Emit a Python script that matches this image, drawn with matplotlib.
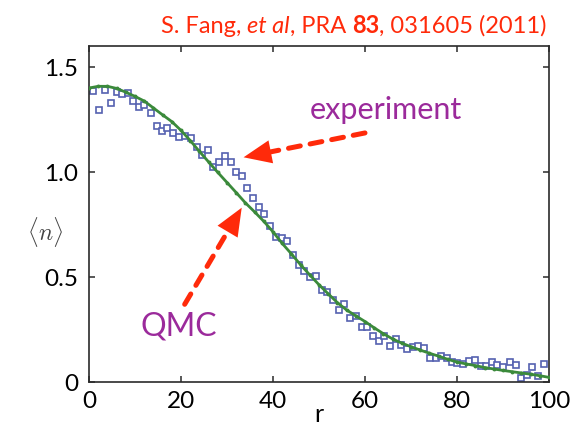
import matplotlib
matplotlib.use("Agg")
import matplotlib.pyplot as plt
from matplotlib.offsetbox import TextArea, HPacker, AnchoredOffsetbox

# ---------------- data ----------------
qmc_r = [0, 2, 4, 6, 8, 10, 12, 14, 16, 18, 20, 22, 24, 26, 28, 30, 32, 34, 36, 38,
         40, 42, 44, 46, 48, 50, 52, 54, 56, 58, 60, 62, 64, 66, 68, 70, 72, 74, 76, 78,
         80, 82, 84, 86, 88, 90, 92, 94, 96, 98, 100]
qmc_n = [1.400, 1.408, 1.408, 1.398, 1.380, 1.360, 1.338, 1.305, 1.272, 1.240,
         1.198, 1.150, 1.098, 1.048, 0.998, 0.950, 0.902, 0.853, 0.810, 0.765,
         0.715, 0.660, 0.610, 0.558, 0.510, 0.463, 0.420, 0.378, 0.343, 0.315,
         0.288, 0.258, 0.230, 0.205, 0.185, 0.168, 0.152, 0.137, 0.123, 0.108,
         0.095, 0.086, 0.078, 0.069, 0.062, 0.055, 0.049, 0.043, 0.037, 0.030, 0.022]

exp_r = [0.9, 2.2, 3.5, 4.7, 6.0, 7.2, 8.5, 9.6, 10.9, 12.0,
         13.4, 14.7, 15.8, 17.0, 18.3, 19.6, 20.9, 22.1, 23.4, 24.6,
         25.8, 27.0, 28.3, 29.6, 30.8, 31.9, 33.2, 34.4, 35.7,
         37.0, 38.1, 39.3, 40.6, 41.9, 43.1, 44.4, 45.7, 46.8, 48.0, 49.3, 50.6, 51.8,
         53.1, 54.3, 55.5, 56.7, 58.0, 59.3, 60.5, 61.8, 63.0, 64.2,
         65.4, 66.7, 67.8, 69.1, 70.4, 71.6, 72.9, 74.1, 75.4, 76.5,
         77.8, 79.0, 80.1, 81.4, 82.7, 83.9, 85.2, 86.4, 87.7, 88.8,
         90.1, 91.5, 92.8, 93.9, 95.2, 96.4, 97.7, 99.0]
exp_n = [1.384, 1.295, 1.390, 1.330, 1.383, 1.371, 1.378, 1.340, 1.310, 1.319,
         1.281, 1.217, 1.197, 1.210, 1.184, 1.165, 1.170, 1.160, 1.118, 1.083,
         1.105, 1.022, 1.046, 1.076, 1.046, 0.998, 0.979, 0.924, 0.875,
         0.835, 0.800, 0.741, 0.690, 0.684, 0.670, 0.606, 0.557, 0.530, 0.498, 0.503, 0.438, 0.427,
         0.390, 0.343, 0.371, 0.305, 0.313, 0.260, 0.260, 0.217, 0.194, 0.221,
         0.170, 0.205, 0.178, 0.157, 0.165, 0.173, 0.160, 0.114, 0.113, 0.122,
         0.114, 0.094, 0.089, 0.086, 0.098, 0.106, 0.078, 0.078, 0.094, 0.081,
         0.070, 0.097, 0.083, 0.019, 0.035, 0.070, 0.030, 0.086]

x_ticks = [0, 20, 40, 60, 80, 100]
x_ticklabels = ["0", "20", "40", "60", "80", "100"]
y_ticks = [0, 0.5, 1.0, 1.5]
y_ticklabels = ["0", "0.5", "1.0", "1.5"]

# annotation anchor points (data coords)
exp_label_xy = (64.5, 1.30)
exp_arrow_tail = (60.0, 1.186)
exp_arrow_tip = (33.6, 1.07)
qmc_label_xy = (19.6, 0.27)
qmc_arrow_tail = (20.8, 0.37)
qmc_arrow_tip = (33.2, 0.83)

# ---------------- style ----------------
FONT = "Lato"
plt.rcParams["font.family"] = [FONT, "DejaVu Sans"]
RED = "#ff2a0a"
PURPLE = "#9b2a9b"
GREEN = "#3b8a3b"
BLUE = "#5561b0"
SPINE = "#2a2a2a"

fig = plt.figure(figsize=(5.71, 4.27), dpi=100)
ax = fig.add_axes([89 / 571, 1 - 383 / 427, (549 - 89) / 571, (383 - 47) / 427])

ax.plot(exp_r, exp_n, linestyle="none", marker="s", markersize=4.4,
        markerfacecolor="white", markeredgecolor=BLUE, markeredgewidth=1.2, zorder=2)
ax.plot(qmc_r, qmc_n, color=GREEN, lw=2.0, marker="o", markersize=2.8,
        markeredgewidth=0, zorder=3)

ax.set_xlim(0, 100)
ax.set_ylim(0, 1.6)
ax.set_xticks(x_ticks)
ax.set_xticklabels(x_ticklabels)
ax.set_yticks(y_ticks)
ax.set_yticklabels(y_ticklabels)
ax.tick_params(direction="in", length=4, width=1.1, color=SPINE, labelsize=17.5,
               top=True, right=True, pad=8)
ax.tick_params(axis="x", pad=6)
for s in ax.spines.values():
    s.set_color(SPINE)
    s.set_linewidth(1.2)

ax.set_xlabel("r", fontsize=18, labelpad=-7)
ax.set_ylabel(r"$\langle n\rangle$", fontsize=17, rotation=0, color="#444444",
              math_fontfamily="cm", va="center")
ax.yaxis.set_label_coords(-0.095, 0.45)

# title with mixed styles
parts = [("S. Fang, ", "normal", "normal"), ("et al", "italic", "normal"),
         (", PRA ", "normal", "normal"), ("83", "normal", "bold"),
         (", 031605 (2011)", "normal", "normal")]
areas = [TextArea(t, textprops=dict(color=RED, fontsize=17, fontstyle=st,
                                    fontweight=wt, family=FONT))
         for t, st, wt in parts]
box = HPacker(children=areas, align="baseline", pad=0, sep=0)
anch = AnchoredOffsetbox(loc="lower right", child=box, pad=0, frameon=False,
                         bbox_to_anchor=(0.995, 1.03), bbox_transform=ax.transAxes,
                         borderpad=0)
ax.add_artist(anch)

# annotations
ax.text(*exp_label_xy, "experiment", color=PURPLE, fontsize=22, ha="center", va="center")
ax.text(*qmc_label_xy, "QMC", color=PURPLE, fontsize=23, ha="center", va="center")

for tail, tip, f in [(exp_arrow_tail, exp_arrow_tip, 0.21),
                     (qmc_arrow_tail, qmc_arrow_tip, 0.235)]:
    # head base point along the arrow direction (fraction of the arrow length)
    base = (tip[0] + f * (tail[0] - tip[0]), tip[1] + f * (tail[1] - tip[1]))
    ax.annotate("", xy=base, xytext=tail,
                arrowprops=dict(arrowstyle="-", color=RED, lw=3.6,
                                linestyle=(0, (2.4, 2.0)), shrinkA=0, shrinkB=0),
                zorder=5)
    ax.annotate("", xy=tip, xytext=base,
                arrowprops=dict(arrowstyle="-|>,head_length=1.0,head_width=0.42",
                                mutation_scale=20, color=RED, lw=0,
                                shrinkA=0, shrinkB=0),
                zorder=5)

fig.savefig("out.png", dpi=100)
